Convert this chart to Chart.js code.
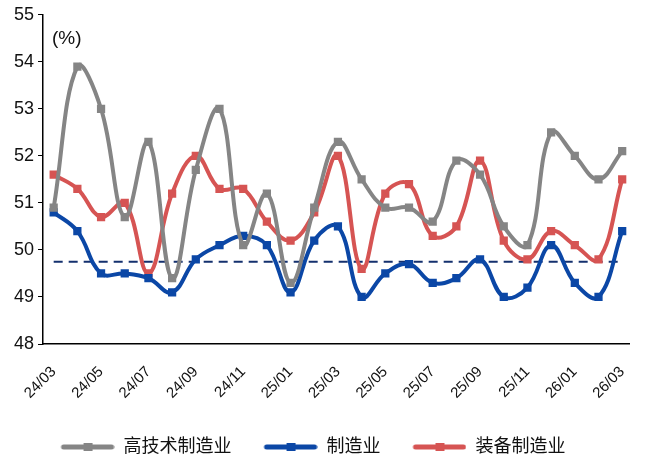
<!DOCTYPE html>
<html>
<head>
<meta charset="utf-8">
<script src="https://cdn.jsdelivr.net/npm/chart.js@4.4.1/dist/chart.umd.min.js"></script>
<style>
    html, body { margin: 0; padding: 0; background: #fff; }
    #wrap { width: 654px; height: 459px; }
</style>
</head>
<body>
<div id="wrap"><canvas id="chart" width="654" height="459"></canvas></div>
<script>
// months 24/03 .. 26/03
const months = ['24/03','24/04','24/05','24/06','24/07','24/08','24/09','24/10','24/11','24/12',
    '25/01','25/02','25/03','25/04','25/05','25/06','25/07','25/08','25/09','25/10','25/11','25/12',
    '26/01','26/02','26/03'];

const highTech = [50.9, 53.9, 53.0, 50.7, 52.3, 49.4, 51.7, 53.0, 50.1, 51.2,
    49.3, 50.9, 52.3, 51.5, 50.9, 50.9, 50.6, 51.9, 51.6, 50.5, 50.1, 52.5,
    52.0, 51.5, 52.1];
const manufacturing = [50.8, 50.4, 49.5, 49.5, 49.4, 49.1, 49.8, 50.1, 50.3, 50.1,
    49.1, 50.2, 50.5, 49.0, 49.5, 49.7, 49.3, 49.4, 49.8, 49.0, 49.2, 50.1,
    49.3, 49.0, 50.4];
const equipment = [51.6, 51.3, 50.7, 51.0, 49.5, 51.2, 52.0, 51.3, 51.3, 50.6,
    50.2, 50.8, 52.0, 49.6, 51.2, 51.4, 50.3, 50.5, 51.9, 50.2, 49.8, 50.4,
    50.1, 49.8, 51.5];
const refLevel = 49.75;

const seriesNames = ['高技术制造业', '制造业', '装备制造业'];
const colors = ['#858585', '#0b47a6', '#d65453'];

const FONT = '"Liberation Sans", Arial, "Noto Sans CJK SC", sans-serif';
const ICON_W = 84;

function toPoints(arr) {
    return arr.map((v, i) => ({ x: i, y: v }));
}

// legend symbol: blank gap on the left, then a line with a small square in the middle
function legendIcon(color) {
    const c = document.createElement('canvas');
    c.width = ICON_W; c.height = 12;
    const g = c.getContext('2d');
    g.strokeStyle = color;
    g.lineWidth = 5;
    g.lineCap = 'round';
    g.beginPath();
    g.moveTo(33, 6); g.lineTo(ICON_W - 3, 6);
    g.stroke();
    g.fillStyle = color;
    g.fillRect(53, 2, 9, 8);
    return c;
}

function lineSet(label, data, color) {
    return {
        label: label,
        data: toPoints(data),
        borderColor: color,
        backgroundColor: color,
        borderWidth: 4,
        tension: 0.4,
        pointStyle: 'rect',
        pointRadius: 3,
        pointHoverRadius: 3,
        pointStyleIcon: legendIcon(color)
    };
}

const unitLabel = {
    id: 'unitLabel',
    afterLayout(chart) {
        // legend sits a bit left of centre and lower in the original
        const lg = chart.legend;
        lg.left -= 33;
        lg.right -= 33;
        lg.top += 7;
        lg.bottom += 7;
    },
    afterDraw(chart) {
        const ctx = chart.ctx;
        ctx.save();
        ctx.font = '19px ' + FONT;
        ctx.fillStyle = '#111';
        ctx.textBaseline = 'middle';
        ctx.fillText('(%)', chart.chartArea.left + 9, 39);
        ctx.restore();
    }
};

new Chart(document.getElementById('chart'), {
    type: 'line',
    data: {
        datasets: [
            lineSet(seriesNames[0], highTech, colors[0]),
            lineSet(seriesNames[1], manufacturing, colors[1]),
            lineSet(seriesNames[2], equipment, colors[2]),
            {
                label: 'ref',
                data: toPoints(months.map(() => refLevel)),
                borderColor: '#14306e',
                borderWidth: 2,
                borderDash: [9, 6],
                pointRadius: 0,
                tension: 0
            }
        ]
    },
    options: {
        responsive: false,
        animation: false,
        layout: { padding: { left: 10, right: 2, top: 8, bottom: 0 } },
        plugins: {
            tooltip: { enabled: false },
            legend: {
                position: 'bottom',
                labels: {
                    font: { family: FONT, size: 18 },
                    color: '#111',
                    usePointStyle: true,
                    pointStyleWidth: ICON_W,
                    padding: 2,
                    generateLabels(chart) {
                        return chart.data.datasets.slice(0, 3).map((ds, i) => ({
                            text: ds.label,
                            fillStyle: ds.borderColor,
                            strokeStyle: ds.borderColor,
                            pointStyle: ds.pointStyleIcon,
                            lineWidth: 0,
                            datasetIndex: i,
                            fontColor: '#111'
                        }));
                    }
                }
            }
        },
        scales: {
            x: {
                type: 'linear',
                min: -0.45,
                max: 24.31,
                grid: { display: false, drawTicks: false },
                border: { display: true, color: '#000', width: 1.5 },
                afterBuildTicks(scale) {
                    scale.ticks = months.map((m, i) => ({ value: i })).filter(t => t.value % 2 === 0);
                },
                afterFit(scale) {
                    scale.height = 85;
                },
                ticks: {
                    autoSkip: false,
                    maxRotation: 45,
                    minRotation: 45,
                    padding: 19,
                    color: '#111',
                    font: { family: FONT, size: 15 },
                    callback: (v) => months[v]
                }
            },
            y: {
                min: 48,
                max: 55,
                grid: { drawOnChartArea: false, drawTicks: true, tickLength: 5, color: '#000' },
                border: { display: true, color: '#000', width: 1.5 },
                ticks: {
                    stepSize: 1,
                    padding: 4,
                    color: '#111',
                    font: { family: FONT, size: 18 }
                }
            }
        }
    },
    plugins: [unitLabel]
});
</script>
</body>
</html>
